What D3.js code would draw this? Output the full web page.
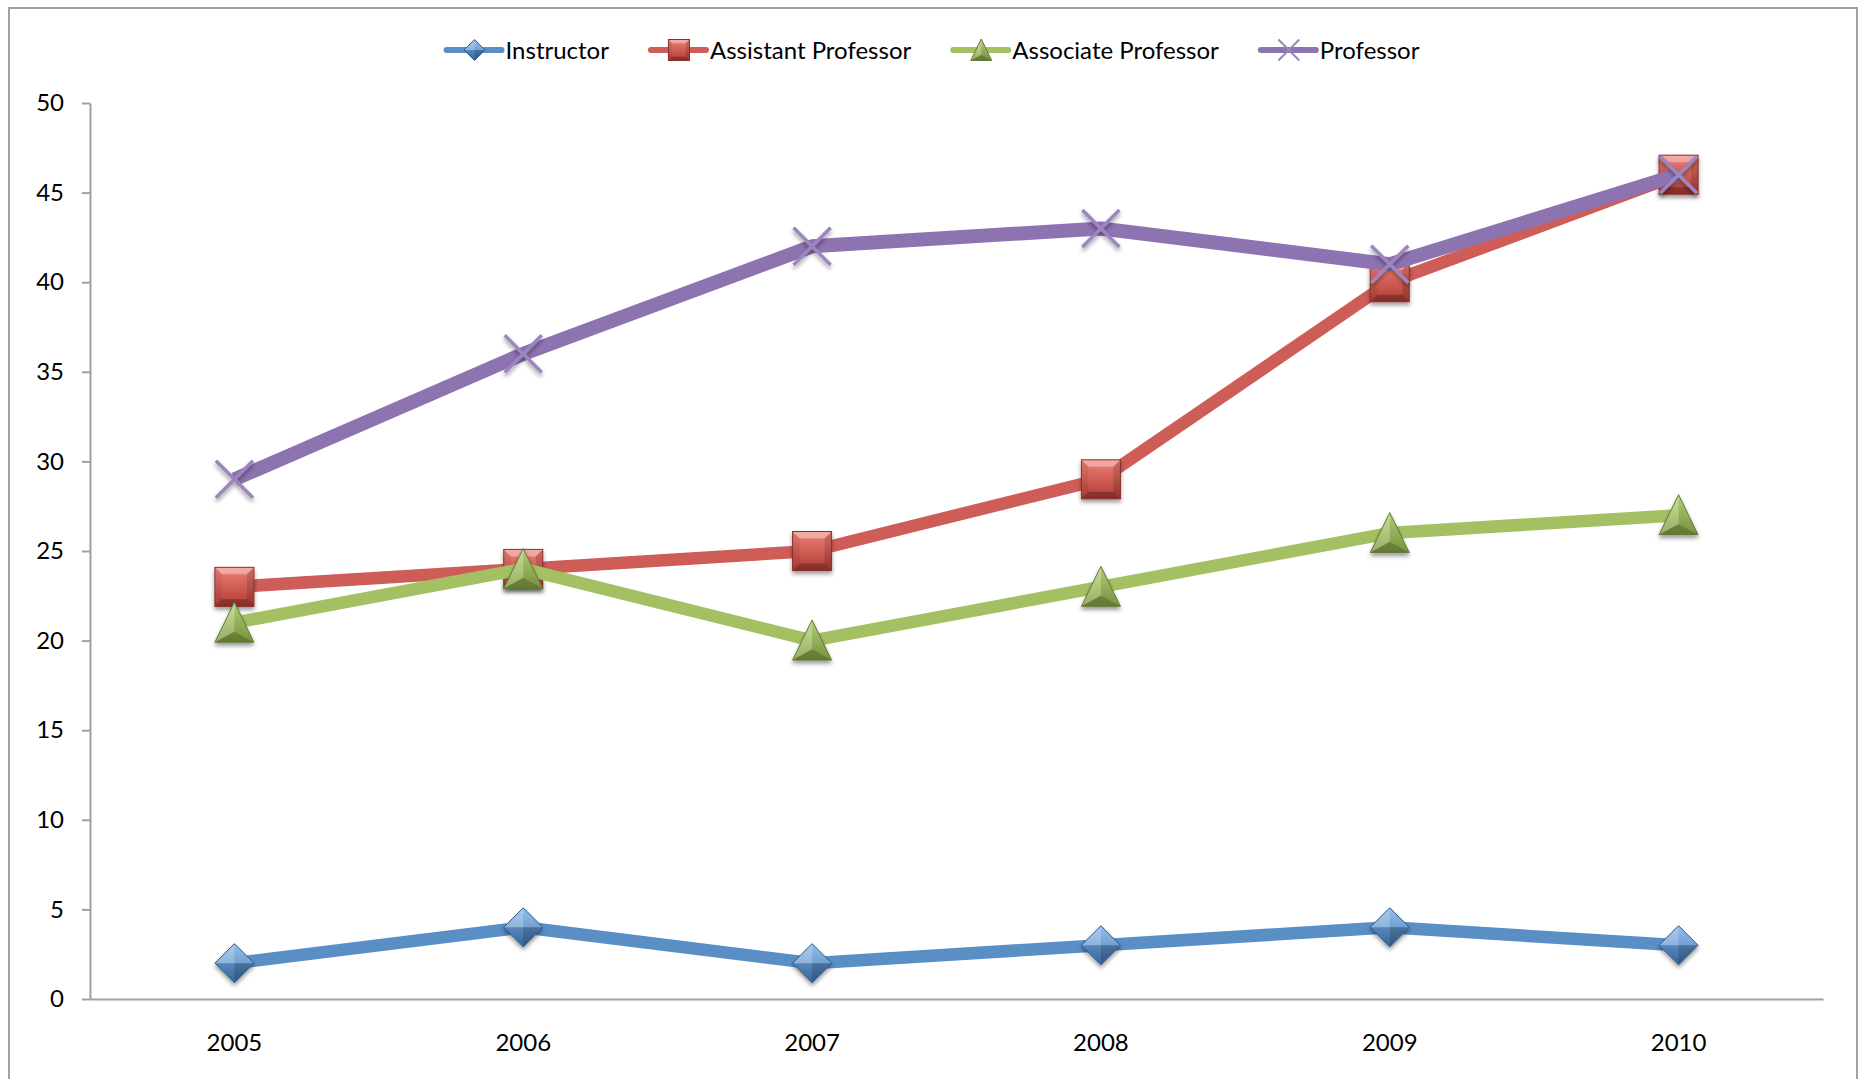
<!DOCTYPE html>
<html>
<head>
<meta charset="utf-8">
<script src="https://cdn.jsdelivr.net/npm/d3@7"></script>
<style>
body { margin: 0; background: #fff; }
text { font-family: Lato, "Open Sans", sans-serif; fill: #000; }
</style>
</head>
<body>
<svg width="1859" height="1079"></svg>
<script>
var years = ["2005", "2006", "2007", "2008", "2009", "2010"];
var seriesNames = ["Instructor", "Assistant Professor", "Associate Professor", "Professor"];
var instructor = [2, 4, 2, 3, 4, 3];
var assistantProfessor = [23, 24, 25, 29, 40, 46];
var associateProfessor = [21, 24, 20, 23, 26, 27];
var professor = [29, 36, 42, 43, 41, 46];
var yTicks = [0, 5, 10, 15, 20, 25, 30, 35, 40, 45, 50];

var allSeries = [instructor, assistantProfessor, associateProfessor, professor];
var markerTypes = ["diamond", "square", "triangle", "cross"];
var lineColors = ["#5a8fc6", "#cf5d57", "#a3c163", "#8e73b1"];
var lightColors = ["#84b7ec", "#f07f77", "#bcd87f", "#9c85c0"];
var darkColors = ["#3b6fa9", "#b03b36", "#7e9a40", "#7a5e9e"];
var edgeColors = ["#2f5b8c", "#8a2f2b", "#63793a", "#6e5790"];

var svg = d3.select("svg");
var defs = svg.append("defs");

svg.append("rect")
  .attr("x", 9).attr("y", 8)
  .attr("width", 1848).attr("height", 1100)
  .attr("fill", "#fff")
  .attr("stroke", "#a3a3a3")
  .attr("stroke-width", 2);

var shadow = defs.append("filter").attr("id", "shadow")
  .attr("x", "-40%").attr("y", "-40%").attr("width", "180%").attr("height", "180%");
shadow.append("feDropShadow")
  .attr("dx", 0).attr("dy", 3).attr("stdDeviation", 2)
  .attr("flood-color", "#000").attr("flood-opacity", 0.4);

lineColors.forEach(function(c, i) {
  var g = defs.append("linearGradient").attr("id", "grad" + i)
    .attr("x1", 0).attr("y1", 0).attr("x2", 0).attr("y2", 1);
  g.append("stop").attr("offset", "0%").attr("stop-color", lightColors[i]);
  g.append("stop").attr("offset", "100%").attr("stop-color", darkColors[i]);
});

var x = d3.scaleBand().domain(years).range([90, 1823]);
var y = d3.scaleLinear().domain([0, 50]).range([999, 103]);

function cx(i) { return x(years[i]) + x.bandwidth() / 2; }

var yAxis = svg.append("g")
  .attr("transform", "translate(90,0)")
  .call(d3.axisLeft(y).tickValues(yTicks).tickSize(8).tickSizeOuter(0).tickPadding(18));

var xAxis = svg.append("g")
  .attr("transform", "translate(0,999)")
  .call(d3.axisBottom(x).tickSize(0).tickSizeOuter(0).tickPadding(35));

[yAxis, xAxis].forEach(function(a) {
  a.selectAll("path, line").attr("stroke", "#a0a0a0").attr("stroke-width", 2);
  a.selectAll("text").attr("font-size", 24).attr("font-family", "Lato, 'Open Sans', sans-serif").attr("fill", "#000");
});

function poly(g, pts, fill, op) {
  g.append("polygon")
    .attr("points", pts.map(function(p) { return p.join(","); }).join(" "))
    .attr("fill", fill).attr("fill-opacity", op);
}

function drawMarker(g, type, i, h) {
  var b = h * 0.36;
  if (type == "square") {
    g.append("rect").attr("x", -h).attr("y", -h).attr("width", 2 * h).attr("height", 2 * h)
      .attr("fill", "url(#grad" + i + ")");
    poly(g, [[-h, -h], [h, -h], [h - b, -h + b], [-h + b, -h + b]], "#fff", 0.35);
    poly(g, [[-h, h], [h, h], [h - b, h - b], [-h + b, h - b]], "#000", 0.25);
    poly(g, [[-h, -h], [-h + b, -h + b], [-h + b, h - b], [-h, h]], "#000", 0.06);
    poly(g, [[h, -h], [h - b, -h + b], [h - b, h - b], [h, h]], "#000", 0.14);
    g.append("rect").attr("x", -h).attr("y", -h).attr("width", 2 * h).attr("height", 2 * h)
      .attr("fill", "none").attr("stroke", edgeColors[i]).attr("stroke-width", 1);
  } else if (type == "diamond") {
    var pts = [[0, -h], [h, 0], [0, h], [-h, 0]];
    poly(g, pts, "url(#grad" + i + ")", 1);
    poly(g, [[0, -h], [0, 0], [-h, 0]], "#fff", 0.3);
    poly(g, [[0, -h], [h, 0], [0, 0]], "#fff", 0.12);
    poly(g, [[h, 0], [0, h], [0, 0]], "#000", 0.22);
    poly(g, [[-h, 0], [0, 0], [0, h]], "#000", 0.08);
    g.append("polygon").attr("points", pts.map(function(p) { return p.join(","); }).join(" "))
      .attr("fill", "none").attr("stroke", edgeColors[i]).attr("stroke-width", 1);
  } else if (type == "triangle") {
    var top = [0, -h * 1.05], bl = [-h, h * 1.0], br = [h, h * 1.0], c = [0, h * 0.45];
    poly(g, [top, bl, br], "url(#grad" + i + ")", 1);
    poly(g, [top, bl, c], "#fff", 0.2);
    poly(g, [top, c, br], "#000", 0.05);
    poly(g, [bl, br, c], "#000", 0.22);
    g.append("polygon").attr("points", [top, bl, br].map(function(p) { return p.join(","); }).join(" "))
      .attr("fill", "none").attr("stroke", edgeColors[i]).attr("stroke-width", 1);
  } else {
    var s = h * 0.95;
    g.append("path").attr("d", "M" + (-s) + "," + (-s) + "L" + s + "," + s + "M" + s + "," + (-s) + "L" + (-s) + "," + s)
      .attr("stroke", lightColors[i]).attr("stroke-width", h > 12 ? 3.5 : 2).attr("fill", "none");
  }
}

var line = d3.line()
  .x(function(d, i) { return cx(i); })
  .y(function(d) { return y(d); });

allSeries.forEach(function(data, i) {
  var sg = svg.append("g").attr("class", "series");
  sg.append("path")
    .attr("d", line(data))
    .attr("fill", "none")
    .attr("stroke", lineColors[i])
    .attr("stroke-width", i == 3 ? 14 : 12.5)
    .attr("stroke-linejoin", "round");
  sg.selectAll(".marker").data(data).enter().append("g")
    .attr("class", "marker")
    .attr("filter", "url(#shadow)")
    .attr("transform", function(d, j) { return "translate(" + cx(j) + "," + y(d) + ")"; })
    .each(function() { drawMarker(d3.select(this), markerTypes[i], i, 19.5); });
});

// legend, centred over the chart frame
var legend = svg.append("g").attr("transform", "translate(0,50)");
var items = legend.selectAll(".item").data(seriesNames).enter().append("g").attr("class", "item");
items.append("line").attr("x1", 0).attr("x2", 55).attr("y1", 0).attr("y2", 0)
  .attr("stroke", function(d, i) { return lineColors[i]; })
  .attr("stroke-width", 6).attr("stroke-linecap", "round");
items.append("g").attr("transform", "translate(28,0)")
  .each(function(d, i) { drawMarker(d3.select(this), markerTypes[i], i, i == 3 ? 11 : 10.5); });
items.append("text").attr("x", 59).attr("dy", "0.36em").attr("font-size", 24).text(function(d) { return d; });

var pos = 0;
var offsets = [];
items.each(function() {
  offsets.push(pos);
  pos += 59 + d3.select(this).select("text").node().getComputedTextLength() + 42;
});
var total = pos - 42;
var start = 933 - total / 2;
items.attr("transform", function(d, i) { return "translate(" + (start + offsets[i]) + ",0)"; });
</script>
</body>
</html>
